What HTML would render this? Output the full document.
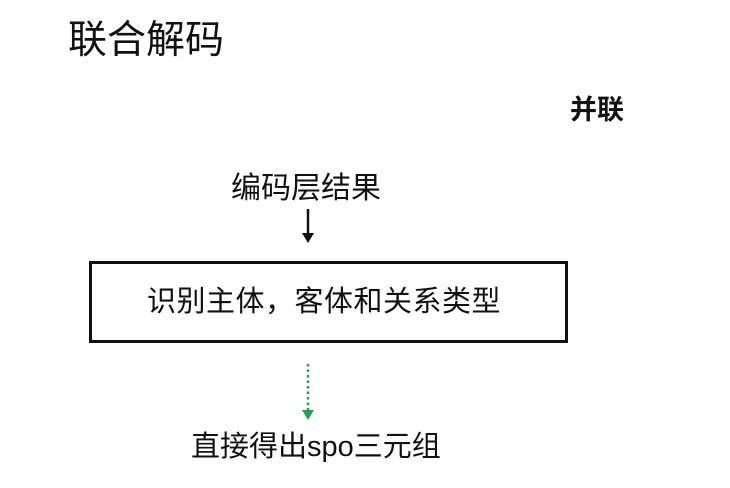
<!DOCTYPE html>
<html><head><meta charset="utf-8"><style>
body{margin:0;width:730px;height:488px;background:#fff;position:relative;overflow:hidden;font-family:"Liberation Sans","Noto Sans CJK SC",sans-serif;color:#111}
.t{position:absolute;white-space:nowrap;line-height:1}
</style></head><body>
<div class="t" style="left:68px;top:21px;font-size:39px">联合解码</div>
<div class="t" style="left:570px;top:97px;font-size:27px;font-weight:bold">并联</div>
<div class="t" style="left:231px;top:174px;font-size:30px">编码层结果</div>
<div style="position:absolute;left:89px;top:261px;width:473px;height:76px;border:3px solid #111"></div>
<div class="t" style="left:147px;top:288px;font-size:29px;letter-spacing:0.5px">识别主体，客体和关系类型</div>
<div class="t" style="left:191px;top:433px;font-size:29px">直接得出spo三元组</div>
<svg width="730" height="488" style="position:absolute;left:0;top:0">
<line x1="308" y1="209" x2="308" y2="234" stroke="#111" stroke-width="2.5"/>
<polygon points="302,233 314,233 308,243" fill="#111"/>
<line x1="308" y1="364" x2="308" y2="410" stroke="#1aa550" stroke-width="2.5" stroke-dasharray="2.5,3"/>
<polygon points="302,410 314,410 308,420" fill="#1aa550"/>
</svg>
</body></html>
